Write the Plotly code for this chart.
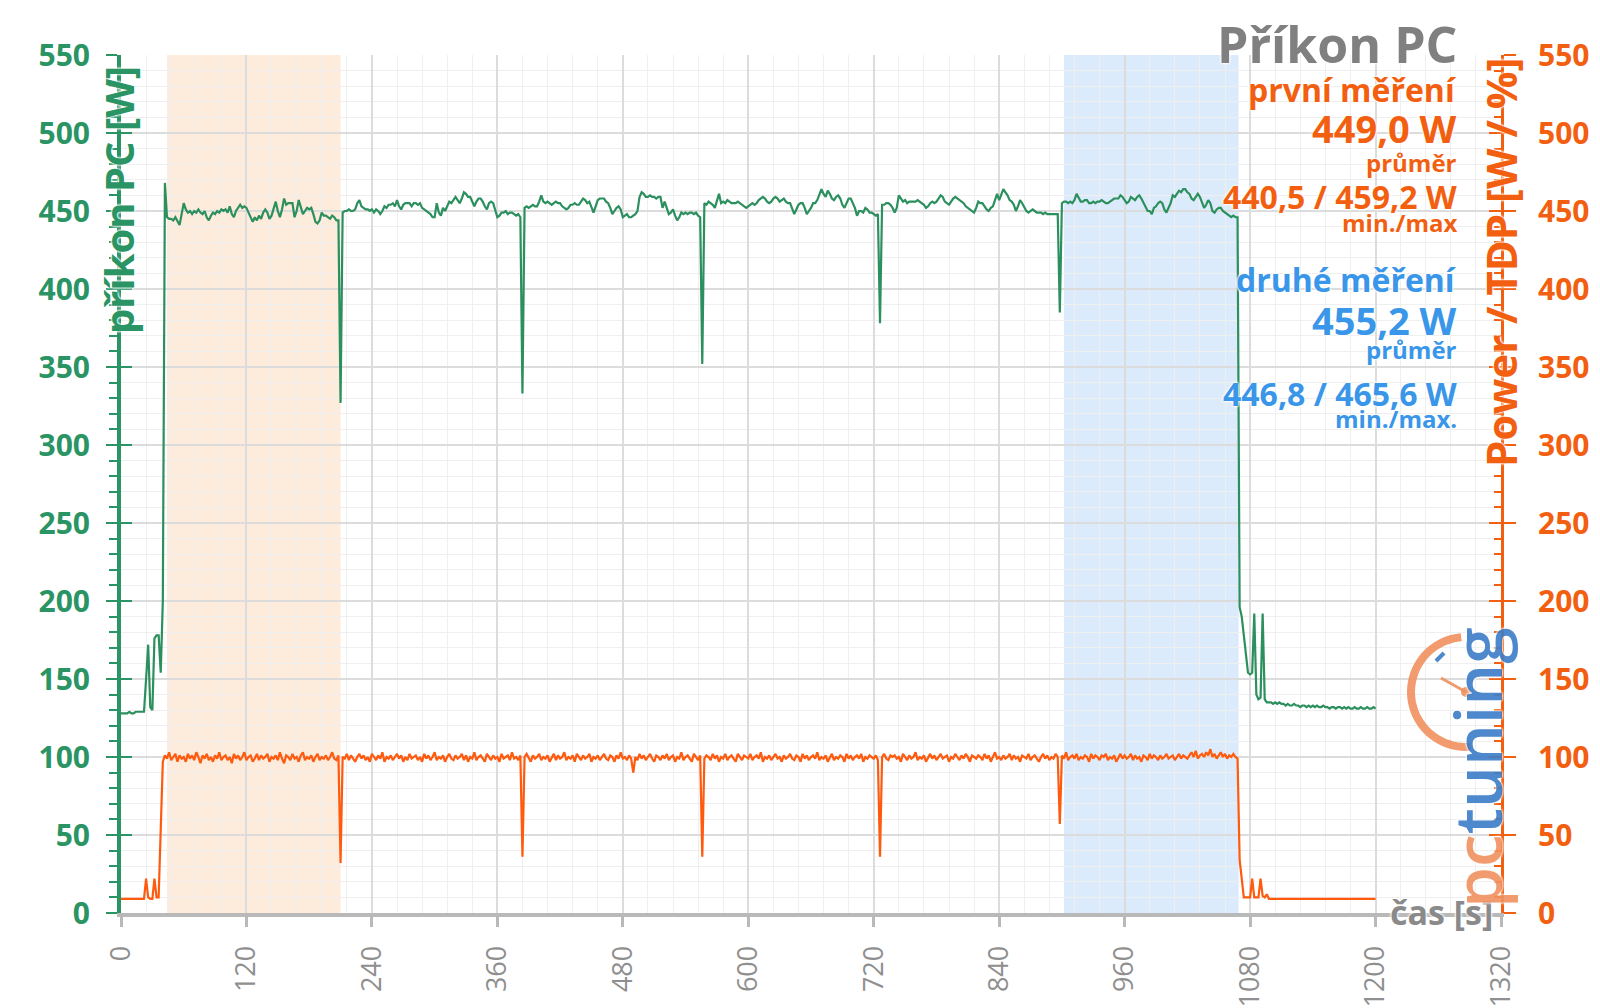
import math
import plotly.graph_objects as go

# ---------------- data ----------------
time_s = list(range(0, 1201, 2))

prikon_pc_w = [
    128,128,128,128,129,128,128,129,129,129,
    129,129,150,172,132,130,176,178,178,154,
    200,468,446,445,445,444,446,443,441,448,
    455,451,449,450,448,450,449,451,449,448,
    450,446,444,447,449,448,450,449,451,450,
    451,449,453,448,446,450,452,454,452,453,
    452,449,446,443,446,444,447,445,449,451,
    449,445,447,452,456,450,446,451,458,454,
    455,455,455,446,450,457,452,448,450,452,
    451,452,448,443,442,444,449,447,447,446,
    445,447,446,444,444,327,449,450,450,451,
    450,450,451,455,457,453,452,451,451,450,
    451,449,451,450,448,450,453,452,454,454,
    455,453,457,453,451,454,455,455,455,453,
    455,455,454,455,452,451,450,449,448,446,
    446,455,449,447,452,450,453,456,455,457,
    459,457,455,458,462,461,459,459,456,453,
    456,458,458,456,453,451,455,456,455,450,
    446,447,449,449,450,448,449,449,448,447,
    448,446,333,452,453,452,453,454,453,453,
    456,460,456,455,456,455,454,455,456,455,
    455,453,452,451,452,454,454,455,454,454,
    456,458,457,455,456,452,449,453,457,458,
    458,458,456,455,452,448,450,452,453,451,
    446,447,448,446,446,447,448,450,459,462,
    461,459,459,460,459,459,458,459,459,452,
    456,452,448,449,451,447,444,446,449,448,
    449,448,449,449,448,449,447,446,352,455,
    454,456,455,454,452,456,461,455,456,455,
    457,456,455,455,455,456,455,454,453,452,
    453,454,455,454,455,457,458,459,458,456,
    455,456,458,459,458,456,457,458,456,455,
    455,452,448,451,454,455,455,452,448,450,
    452,455,455,457,460,464,461,459,463,461,
    458,457,459,460,458,454,452,455,458,458,
    455,452,447,450,450,449,452,451,449,449,
    448,447,448,378,454,454,455,455,454,452,
    449,452,460,458,456,457,455,456,456,456,
    456,457,456,455,454,452,453,455,456,455,
    456,458,460,459,456,455,454,456,458,459,
    458,457,456,455,453,452,451,450,449,452,
    456,455,455,453,451,450,452,453,457,461,
    457,460,464,462,460,457,456,454,450,453,
    457,455,452,450,449,450,451,450,449,449,
    449,448,449,448,448,448,448,448,448,385,
    455,456,456,455,456,455,457,461,458,456,
    456,457,457,455,455,456,455,456,456,457,
    456,455,455,456,457,458,458,458,460,459,
    457,455,456,459,458,457,459,460,458,455,
    452,450,450,448,452,453,455,456,455,451,
    449,452,455,460,459,461,463,462,464,464,
    462,461,458,457,459,461,459,455,452,454,
    457,455,450,449,451,452,452,450,449,448,
    447,446,447,446,446,196,190,178,165,154,
    153,154,192,140,137,138,192,137,135,135,
    135,134,135,134,135,134,134,133,134,133,
    133,134,133,133,132,133,133,132,133,132,
    133,132,133,132,132,133,132,132,131,132,
    132,131,132,132,131,132,131,132,131,131,
    132,131,131,132,131,131,132,131,131,132,
    131,
]

power_tdp_pct = [
    9,9,9,9,9,9,9,9,9,9,
    9,9,22,10,9,9,22,10,10,50,
    97,101,99,103,98,100,102,97,101,99,
    100,97,102,99,101,98,103,100,96,101,
    99,102,98,100,97,101,99,103,98,100,
    101,98,100,96,102,99,101,98,100,103,
    98,100,101,97,99,102,98,101,99,100,
    102,97,100,99,101,98,103,99,96,101,
    100,98,102,99,100,97,101,103,98,100,
    99,101,97,100,102,98,100,99,101,98,
    100,103,99,98,101,32,100,99,102,98,
    101,99,97,100,102,99,101,98,100,97,
    102,100,98,101,99,103,97,100,99,101,
    98,100,102,99,101,97,100,98,102,99,
    100,101,98,100,97,102,99,101,98,100,
    103,98,100,99,101,97,100,102,99,98,
    101,99,100,102,98,101,97,100,99,103,
    98,100,101,99,97,102,100,98,101,99,
    100,97,102,99,100,101,98,103,99,100,
    98,101,36,100,102,99,97,101,99,100,
    102,98,100,99,101,97,100,102,98,101,
    99,100,103,98,100,99,101,97,102,100,
    98,101,99,100,102,97,100,99,101,98,
    100,102,99,98,101,100,97,101,99,103,
    99,100,98,101,99,90,100,98,102,99,
    101,98,100,102,99,97,101,100,98,101,
    99,102,98,100,101,97,100,99,103,98,
    100,101,99,97,102,100,98,101,36,99,
    101,100,98,102,99,101,97,100,99,102,
    98,100,101,99,97,102,100,98,101,100,
    99,102,98,100,101,99,103,97,100,99,
    101,98,100,102,99,100,97,101,99,100,
    102,99,98,101,100,97,102,99,101,98,
    100,101,99,103,98,100,99,101,97,100,
    102,98,100,99,101,100,97,102,99,101,
    98,100,101,99,102,97,100,99,101,100,
    99,101,98,36,100,102,99,98,101,100,
    101,99,100,97,102,100,98,101,99,100,
    103,98,100,99,101,97,100,102,99,101,
    98,100,102,99,100,101,97,100,99,102,
    100,98,101,99,102,100,97,101,100,99,
    101,100,98,102,99,101,97,100,103,99,
    100,98,101,99,100,102,98,101,99,100,
    97,101,100,99,102,98,100,101,99,97,
    100,102,99,101,98,100,99,102,100,57,
    101,99,103,98,100,101,99,102,98,100,
    99,101,100,97,102,99,101,100,98,101,
    100,102,98,100,99,101,97,100,102,99,
    101,99,100,102,98,101,99,100,97,101,
    100,98,102,99,101,100,98,101,99,100,
    102,99,100,101,98,100,102,99,101,100,
    99,101,103,100,104,99,101,102,100,103,
    101,105,100,102,99,101,103,100,102,99,
    101,100,102,100,99,34,20,10,10,10,
    10,22,10,10,10,22,11,10,12,9,
    9,9,9,9,9,9,9,9,9,9,
    9,9,9,9,9,9,9,9,9,9,
    9,9,9,9,9,9,9,9,9,9,
    9,9,9,9,9,9,9,9,9,9,
    9,9,9,9,9,9,9,9,9,9,
    9,
]

first_run_s = [44, 210]
second_run_s = [902, 1069]

x_tick_vals = [0, 120, 240, 360, 480, 600, 720, 840, 960, 1080, 1200, 1320]
y_tick_vals = [0, 50, 100, 150, 200, 250, 300, 350, 400, 450, 500, 550]

title_text = "Příkon PC"
left_title = "příkon PC [W]"
right_title = "Power / TDP [W / %]"
x_title = "čas [s]"
first_block = ["první měření", "449,0 W", "průměr", "440,5 / 459,2 W", "min./max"]
second_block = ["druhé měření", "455,2 W", "průměr", "446,8 / 465,6 W", "min./max."]

# ---------------- style ----------------
W, H = 1600, 1008
ML, MR, MT, MB = 121, 99, 55, 95
PW, PH = W - ML - MR, H - MT - MB

GREEN = "#2b8f5e"
GREEN_TXT = "#2a9464"
ORANGE = "#ff5a0e"
ORANGE_TXT = "#f35f10"
BLUE_TXT = "#3a96e8"
GRAY_TXT = "#8a8a8a"
FONT = "Open Sans"
GLOW = "0px 0px 3px #ffffff, 0px 0px 3px #ffffff, 0px 0px 2px #ffffff"


def px_x(px):
    return (px - ML) / PW


def px_y(py):
    return (MT + PH - py) / PH


fig = go.Figure()

fig.add_trace(go.Scatter(x=time_s, y=prikon_pc_w, mode="lines",
                         line=dict(color=GREEN, width=2.2), yaxis="y",
                         hoverinfo="skip", showlegend=False))
fig.add_trace(go.Scatter(x=time_s, y=power_tdp_pct, mode="lines",
                         line=dict(color=ORANGE, width=2.2), yaxis="y2",
                         hoverinfo="skip", showlegend=False))
# helper traces so the tick-only overlay axes are drawn
fig.add_trace(go.Scatter(x=[None], y=[None], yaxis="y3", showlegend=False, hoverinfo="skip"))
fig.add_trace(go.Scatter(x=[None], y=[None], yaxis="y4", showlegend=False, hoverinfo="skip"))

shapes = [
    dict(type="rect", xref="x", yref="paper", x0=first_run_s[0], x1=first_run_s[1],
         y0=0, y1=1, fillcolor="#fdebdc", line=dict(width=0), layer="below"),
    dict(type="rect", xref="x", yref="paper", x0=second_run_s[0], x1=second_run_s[1],
         y0=0, y1=1, fillcolor="#dcebfb", line=dict(width=0), layer="below"),
]

# pctuning logo (decoration): gauge arc in pixel space converted to paper coords
cx, cy, r = 1466, 692, 55
pts = []
for k in range(0, 37):
    a = math.radians(95 + k * 5)
    pts.append((px_x(cx + r * math.cos(a)), px_y(cy - r * math.sin(a))))
path = "M " + " L ".join(f"{x:.5f},{y:.5f}" for x, y in pts)
shapes.append(dict(type="path", xref="paper", yref="paper", path=path,
                   line=dict(color="#f0915f", width=8), opacity=0.9))
shapes.append(dict(type="line", xref="paper", yref="paper",
                   x0=px_x(cx), y0=px_y(cy), x1=px_x(1441), y1=px_y(678),
                   line=dict(color="#f0915f", width=3), opacity=0.9))
shapes.append(dict(type="circle", xref="paper", yref="paper",
                   x0=px_x(cx - 5), x1=px_x(cx + 5), y0=px_y(cy + 5), y1=px_y(cy - 5),
                   fillcolor="#f0915f", line=dict(width=0), opacity=0.9))
shapes.append(dict(type="line", xref="paper", yref="paper",
                   x0=px_x(1436), y0=px_y(661), x1=px_x(1444), y1=px_y(653),
                   line=dict(color="#3d7dc8", width=4), opacity=0.9))

annotations = []


def ann(text, x, y, size, color, xanchor="right", angle=0, weight=700, opacity=1.0):
    annotations.append(dict(text=text, xref="paper", yref="paper", x=px_x(x), y=px_y(y),
                            xanchor=xanchor, yanchor="middle", showarrow=False,
                            textangle=angle, opacity=opacity,
                            font=dict(family=FONT, size=size, color=color, weight=weight,
                                      shadow=GLOW)))


ann(title_text, 1459, 44, 50, "#808080")
sizes = [32, 38, 24, 32, 24]
ys1 = [89, 128, 162, 197, 222]
ys2 = [280, 320, 349, 393, 418]
for t, s, y in zip(first_block, sizes, ys1):
    ann(t, 1459, y, s, ORANGE_TXT)
for t, s, y in zip(second_block, sizes, ys2):
    ann(t, 1459, y, s, BLUE_TXT)

ann(left_title, 118, 200, 40, GREEN_TXT, xanchor="center", angle=-90)
ann(right_title, 1500, 262, 42, ORANGE_TXT, xanchor="center", angle=-90)
ann(x_title, 1441, 912, 34, GRAY_TXT, xanchor="center")
ann("<span style='color:#f0915f'>pc</span><span style='color:#3d7dc8'>tuning</span>",
    1476, 768, 66, "#3d7dc8", xanchor="center", angle=-90, weight=600, opacity=0.9)

axis_y_common = dict(range=[0, 550], tickvals=y_tick_vals, zeroline=False,
                     fixedrange=True, automargin=False)

fig.update_layout(
    width=W, height=H, autosize=False,
    margin=dict(l=ML, r=MR, t=MT, b=MB, pad=0, autoexpand=False),
    paper_bgcolor="white", plot_bgcolor="white",
    font=dict(family=FONT),
    showlegend=False,
    shapes=shapes,
    annotations=annotations,
    xaxis=dict(range=[0, 1320], tickvals=x_tick_vals, tickangle=-90,
               tickfont=dict(family=FONT, size=27, color="#8f8f8f"),
               showline=True, linecolor="#b9b9b9", linewidth=4,
               ticks="outside", ticklen=10, tickwidth=3, tickcolor="#b9b9b9",
               ticklabelstandoff=8, automargin=False,
               showgrid=True, gridcolor="#dcdcdc", gridwidth=1.5,
               minor=dict(dtick=24, showgrid=True, gridcolor="#efefef", gridwidth=1),
               zeroline=False, fixedrange=True),
    yaxis=dict(**axis_y_common, side="left",
               tickfont=dict(family=FONT, size=30, color=GREEN_TXT, weight=700),
               showline=True, linecolor=GREEN_TXT, linewidth=4,
               ticks="outside", ticklen=11, tickwidth=2, tickcolor=GREEN_TXT,
               ticklabelstandoff=10,
               showgrid=True, gridcolor="#dcdcdc", gridwidth=1.5,
               minor=dict(dtick=10, ticks="outside", ticklen=8, tickwidth=2,
                          tickcolor=GREEN_TXT, showgrid=True, gridcolor="#efefef",
                          gridwidth=1)),
    yaxis2=dict(**axis_y_common, side="right", overlaying="y", anchor="x",
                tickfont=dict(family=FONT, size=30, color=ORANGE_TXT, weight=700),
                showline=True, linecolor=ORANGE_TXT, linewidth=3,
                ticks="outside", ticklen=12, tickwidth=2, tickcolor=ORANGE_TXT,
                ticklabelstandoff=16, showgrid=False),
    yaxis3=dict(**axis_y_common, side="left", overlaying="y", anchor="x",
                showticklabels=False, showline=False, showgrid=False,
                ticks="inside", ticklen=11, tickwidth=2, tickcolor=GREEN_TXT),
    yaxis4=dict(**axis_y_common, side="right", overlaying="y", anchor="x",
                showticklabels=False, showline=False, showgrid=False,
                ticks="inside", ticklen=12, tickwidth=2, tickcolor=ORANGE_TXT,
                minor=dict(dtick=10, ticks="inside", ticklen=7, tickwidth=2,
                           tickcolor=ORANGE_TXT)),
)

fig.write_html("out.html", config={"displayModeBar": False})
